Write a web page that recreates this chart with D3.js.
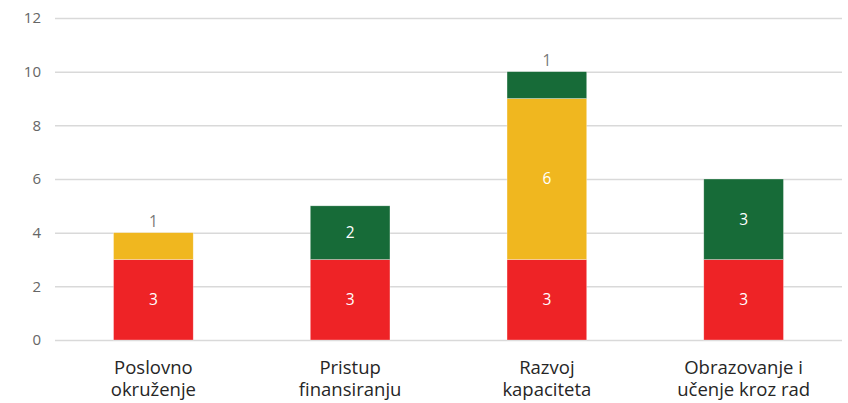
<!DOCTYPE html>
<html>
<head>
<meta charset="utf-8">
<script src="https://cdn.jsdelivr.net/npm/d3@7"></script>
<style>
  body { margin: 0; background: #fff; }
  svg { display: block; font-family: "Open Sans", Lato, sans-serif; }
</style>
</head>
<body>
<div id="chart"></div>
<script>
// categories (two-line labels) and stacked values
var categories = ['Poslovno okruženje', 'Pristup finansiranju', 'Razvoj kapaciteta', 'Obrazovanje i učenje kroz rad'];
var catLines = [['Poslovno', 'okruženje'], ['Pristup', 'finansiranju'], ['Razvoj', 'kapaciteta'], ['Obrazovanje i', 'učenje kroz rad']];
var red = [3, 3, 3, 3];
var yellow = [1, 0, 6, 0];
var green = [0, 2, 1, 3];
var yTicks = [0, 2, 4, 6, 8, 10, 12];

var seriesKeys = ['red', 'yellow', 'green'];
var colors = {red: '#ee2326', yellow: '#f0b71f', green: '#176b38'};

var rows = categories.map(function(c, i) {
    return {cat: c, red: red[i], yellow: yellow[i], green: green[i]};
});

var width = 848, height = 403;
var margin = {top: 18, right: 6, bottom: 63, left: 55};
var innerwidth = width - margin.left - margin.right,
    innerheight = height - margin.top - margin.bottom;

var x = d3.scaleBand().domain(categories).range([0, innerwidth]).paddingInner(0.595).paddingOuter(0.2975);
var y = d3.scaleLinear().domain([0, 12]).range([innerheight, 0]);

var svg = d3.select('#chart').append('svg')
    .attr('width', width)
    .attr('height', height)
    .append('g')
        .attr('transform', 'translate(' + margin.left + ',' + margin.top + ')');

// gridlines + y labels
var yAxis = svg.append('g')
    .call(d3.axisLeft(y).tickValues(yTicks).tickSize(-innerwidth).tickPadding(14));
yAxis.select('.domain').remove();
yAxis.selectAll('line').attr('stroke', '#d9d9d9').attr('stroke-width', 1.5);
yAxis.selectAll('text')
    .attr('fill', '#666')
    .style('font-size', '15px')
    .style('font-family', '"Open Sans", Lato, sans-serif');

// stacked bars
var stack = d3.stack().keys(seriesKeys)(rows);

var layers = svg.selectAll('.layer')
    .data(stack)
    .enter()
    .append('g')
    .attr('class', 'layer')
    .attr('fill', function(d) { return colors[d.key]; });

layers.selectAll('rect')
    .data(function(d) { return d; })
    .enter()
    .filter(function(d) { return d[1] > d[0]; })
    .append('rect')
    .attr('x', function(d) { return x(d.data.cat); })
    .attr('width', x.bandwidth())
    .attr('y', function(d) { return y(d[1]); })
    .attr('height', function(d) { return y(d[0]) - y(d[1]); })
    .attr('stroke', 'rgba(255,255,255,0.5)')
    .attr('stroke-width', 0.6);

// value labels: inside if tall enough, otherwise above in gray
stack.forEach(function(layer) {
    layer.forEach(function(d) {
        var v = d[1] - d[0];
        if (v <= 0) return;
        var cx = x(d.data.cat) + x.bandwidth() / 2;
        var inside = v >= 2;
        svg.append('text')
            .attr('x', cx)
            .attr('y', inside ? (y(d[0]) + y(d[1])) / 2 : y(d[1]) - 6)
            .attr('dy', inside ? '0.35em' : 0)
            .attr('text-anchor', 'middle')
            .attr('fill', inside ? '#fff' : '#777')
            .style('font-size', '15.5px')
            .text(v);
    });
});

// category labels
var catG = svg.append('g').attr('transform', 'translate(0,' + innerheight + ')');
categories.forEach(function(c, i) {
    var t = catG.append('text')
        .attr('x', x(c) + x.bandwidth() / 2)
        .attr('y', 34)
        .attr('text-anchor', 'middle')
        .attr('fill', '#262626')
        .style('font-size', '18.5px');
    catLines[i].forEach(function(line, j) {
        t.append('tspan')
            .attr('x', x(c) + x.bandwidth() / 2)
            .attr('dy', j === 0 ? 0 : 22)
            .text(line);
    });
});
</script>
</body>
</html>
